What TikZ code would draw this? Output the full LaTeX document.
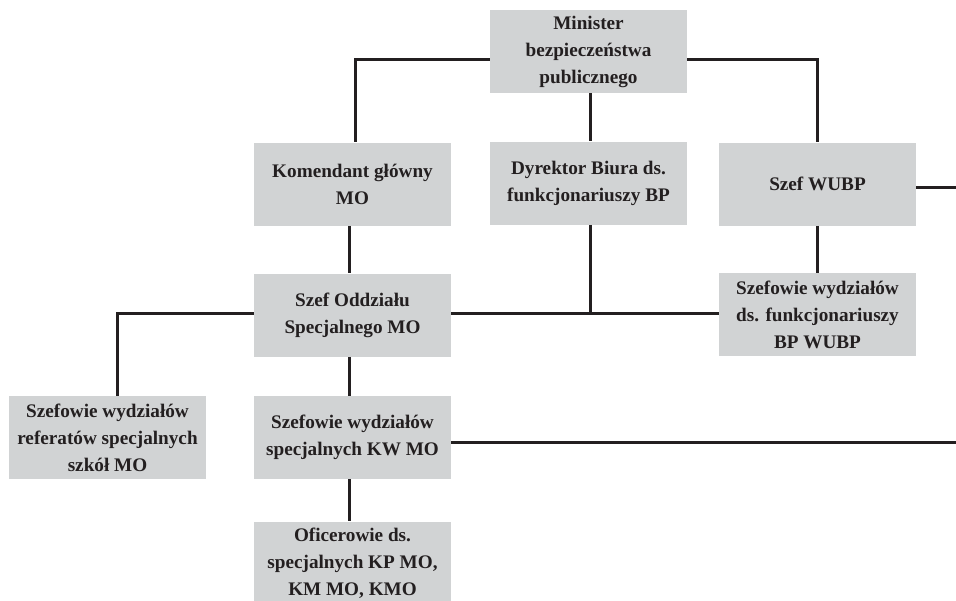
\documentclass[tikz,border=0pt]{standalone}
\usepackage{fontspec}
\setmainfont{Liberation Serif}
\definecolor{boxgray}{RGB}{209,211,212}
\definecolor{linecol}{RGB}{35,31,32}
\begin{document}
\begin{tikzpicture}[x=0.5pt,y=-0.5pt,
  box/.style={fill=boxgray, minimum width=98.5pt, minimum height=41.5pt, inner sep=0pt, align=center, text=linecol,
    font=\fontsize{9.6}{13.5}\selectfont\bfseries},
  conn/.style={line width=1.5pt, draw=linecol}]
\useasboundingbox (0,0) rectangle (956,600);
\fill[white] (0,0) rectangle (956,600);
\node[box] (min) at (588.5,51.5) {Minister\\bezpieczeństwa\\publicznego};
\node[box] (kom) at (352.5,184) {Komendant główny\\MO};
\node[box] (dyr) at (588.5,183) {Dyrektor Biura ds.\\funkcjonariuszy BP};
\node[box] (wubp) at (817.5,184) {Szef WUBP};
\node[box] (wfun) at (817.5,314.5) {Szefowie wydziałów\\ds. funkcjonariuszy\\BP WUBP};
\node[box] (odz) at (352.5,315) {Szef Oddziału\\Specjalnego MO};
\node[box] (ref) at (107.5,437.5) {Szefowie wydziałów\\referatów specjalnych\\szkół MO};
\node[box] (kw) at (352.5,437.5) {Szefowie wydziałów\\specjalnych KW MO};
\node[box] (ofi) at (352.5,563) {Oficerowie ds.\\specjalnych KP MO,\\KM MO, KMO};
\coordinate (e1) at (956,187);
\coordinate (e2) at (956,442);
\coordinate (hj) at ([yshift=0.75pt]odz.east);
\coordinate (dj) at ([xshift=1pt]dyr.south);
\draw[conn] ([yshift=-3.75pt]min.west) -| ([xshift=1.25pt]kom.north);
\draw[conn] ([yshift=-3.75pt]min.east) -| (wubp.north);
\draw[conn] ([xshift=1pt]min.south) -- ([xshift=1pt]dyr.north);
\draw[conn] ([yshift=-1.5pt]wubp.east) -- (e1);
\draw[conn] (wubp.south) -- (wfun.north);
\draw[conn] ([xshift=-1.75pt]kom.south) -- ([xshift=-1.75pt]odz.north);
\draw[conn] ([yshift=1pt]odz.west) -| ([xshift=4.75pt]ref.north);
\draw[conn] (hj) -- (hj -| wfun.west);
\draw[conn] (dj) -- (dj |- hj);
\draw[conn] ([yshift=-2.25pt]kw.east) -- (e2);
\draw[conn] ([xshift=-1.75pt]odz.south) -- ([xshift=-1.75pt]kw.north);
\draw[conn] ([xshift=-1.75pt]kw.south) -- ([xshift=-1.75pt]ofi.north);
\end{tikzpicture}
\end{document}
